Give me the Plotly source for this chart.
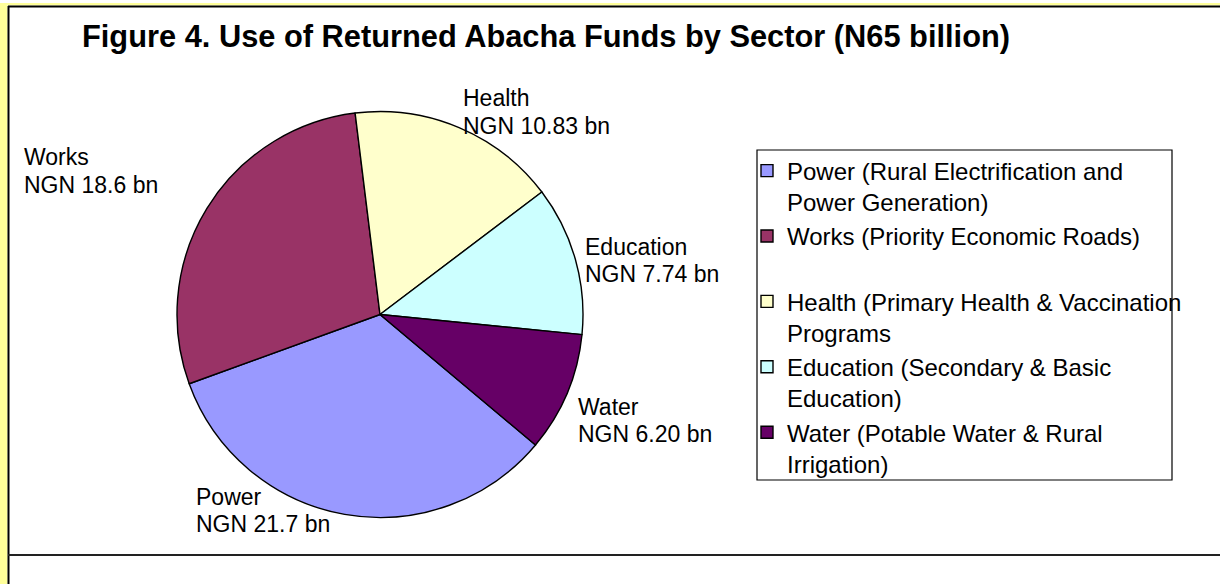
import plotly.graph_objects as go

# ---- data ----
sectors = ["Power", "Works", "Health", "Education", "Water"]
values_bn = [21.7, 18.6, 10.83, 7.74, 6.20]
value_text = ["21.7", "18.6", "10.83", "7.74", "6.20"]
legend_names = [
    "Power (Rural Electrification and<br>Power Generation)",
    "Works (Priority Economic Roads)<br>&nbsp;",
    "Health (Primary Health & Vaccination<br>Programs",
    "Education (Secondary & Basic<br>Education)",
    "Water (Potable Water & Rural<br>Irrigation)",
]
colors = ["#9999FF", "#993366", "#FFFFCC", "#CCFFFF", "#660066"]
title_text = "Figure 4. Use of Returned Abacha Funds by Sector (N65 billion)"

# ---- layout helpers (pixel -> paper) ----
W, H = 1220, 584
def px(x):
    return x / W
def py(y):
    return 1 - y / H

FONT = "Liberation Sans, Arial, sans-serif"

# pie geometry (pixels)
cx, cy, r = 380, 314.5, 203

fig = go.Figure()
fig.add_trace(go.Pie(
    labels=legend_names,
    values=values_bn,
    sort=False,
    direction="clockwise",
    rotation=130,
    textinfo="none",
    hoverinfo="label+value",
    marker=dict(colors=colors, line=dict(color="black", width=1.4)),
    domain=dict(x=[px(cx - r), px(cx + r)], y=[py(cy + r), py(cy - r)]),
))

# slice labels (name line + value line)
label_pos = {  # left x, cap-middle y of first line (pixels)
    "Power": (194, 496.5),
    "Works": (22, 157),
    "Health": (461, 98.5),
    "Education": (583, 246.5),
    "Water": (576, 406.5),
}
annotations = []
for name, vt in zip(sectors, value_text):
    lx, ly = label_pos[name]
    for i, line in enumerate([name, f"NGN {vt} bn"]):
        annotations.append(dict(
            x=px(lx), y=py(ly + i * 27.5), xref="paper", yref="paper",
            xanchor="left", yanchor="middle", showarrow=False,
            text=line, font=dict(family=FONT, size=23, color="black"),
        ))

# title
annotations.append(dict(
    x=px(546), y=py(37), xref="paper", yref="paper",
    xanchor="center", yanchor="middle", showarrow=False,
    text=f"<b>{title_text}</b>", font=dict(family=FONT, size=30.8, color="black"),
))

shapes = [
    # yellow outer frame strips
    dict(type="rect", xref="paper", yref="paper", x0=0, x1=1, y0=py(5.5), y1=py(3),
         fillcolor="#FFFF99", line=dict(width=0), layer="below"),
    dict(type="rect", xref="paper", yref="paper", x0=0, x1=px(7.5), y0=0, y1=py(3),
         fillcolor="#FFFF99", line=dict(width=0), layer="below"),
    # black chart-area border lines
    dict(type="line", xref="paper", yref="paper", x0=px(8), x1=1, y0=py(6.5), y1=py(6.5),
         line=dict(color="black", width=2)),
    dict(type="line", xref="paper", yref="paper", x0=px(8.5), x1=px(8.5), y0=0, y1=py(6),
         line=dict(color="black", width=2)),
    dict(type="line", xref="paper", yref="paper", x0=px(8), x1=1, y0=py(555), y1=py(555),
         line=dict(color="#222222", width=2)),
    # legend box
    dict(type="rect", xref="paper", yref="paper", x0=px(757), x1=px(1172),
         y0=py(480), y1=py(150), line=dict(color="black", width=1.2),
         fillcolor="rgba(0,0,0,0)"),
]

fig.update_layout(
    width=W, height=H,
    margin=dict(l=0, r=0, t=0, b=0),
    paper_bgcolor="white", plot_bgcolor="white",
    showlegend=True,
    legend=dict(
        x=px(747), y=py(148.5), xanchor="left", yanchor="top",
        font=dict(family=FONT, size=24, color="black"),
        bgcolor="rgba(0,0,0,0)", borderwidth=0, valign="top",
        traceorder="normal", itemclick=False, itemdoubleclick=False,
    ),
    annotations=annotations,
    shapes=shapes,
)

fig.write_html("out.html", config={"displayModeBar": False})
